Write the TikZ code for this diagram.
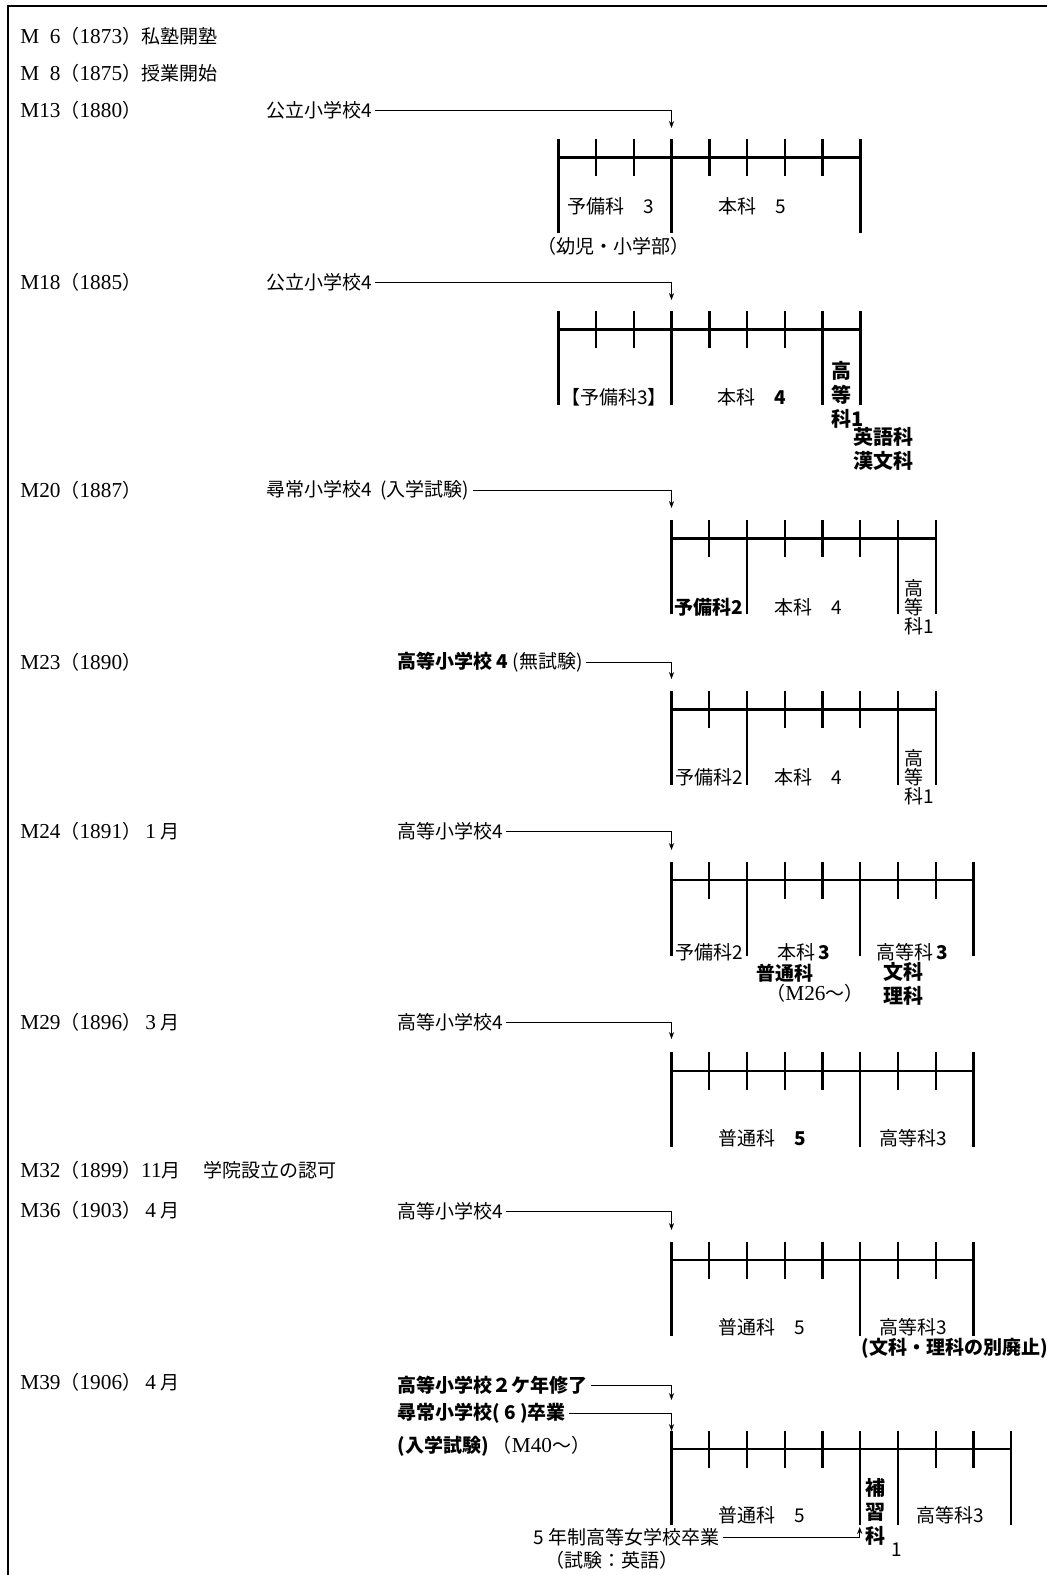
\documentclass[tikz,border=0pt]{standalone}
\usepackage{fontspec}
\setmainfont{Noto Sans CJK JP}
\newfontfamily\lat{Liberation Serif}[Scale=1.12]
\usetikzlibrary{
    arrows.meta,
    positioning
}
\tikzstyle{yearlabel} = [
    anchor=west,
    inner sep=0pt
]
\tikzstyle{entry} = [
    anchor=west,
    inner xsep=1.5pt,
    inner ysep=0pt
]
\tikzstyle{course} = [
    inner sep=0pt
]
\tikzstyle{stack} = [
    anchor=west,
    align=left,
    inner sep=0pt
]
\tikzstyle{feed} = [
    -{Stealth[length=3.5pt,width=2.6pt]},
    line width=0.5pt
]
\tikzstyle{bar} = [
    line width=1.2pt
]
\tikzstyle{frame} = [
    line width=0.9pt
]
% x0, y of the line, number of years, long ticks
\newcommand{\gradebar}[4]{%
    \draw[bar] (#1,#2) -- ++(#3*37.75,0);
    \foreach \k in {0,...,#3}
        \draw[bar] (#1+\k*37.75,#2-18.5) -- ++(0,37.5);
    \foreach \k in {#4}
        \draw[bar] (#1+\k*37.75,#2) -- ++(0,76);
}

\begin{document}
\begin{tikzpicture}[x=0.5pt, y=-0.5pt, font=\fontsize{9.5}{9.5}\selectfont]
        \useasboundingbox (0,0) rectangle (1047,1575);
        \draw[frame] (8,1575) -- (8,6) -- (1047,6);

        % Years
        \node[yearlabel] (m6)  at (20,36)   {{\lat M\enspace6}（{\lat 1873}）私塾開塾};
        \node[yearlabel] (m8)  at (20,73)   {{\lat M\enspace8}（{\lat 1875}）授業開始};
        \node[yearlabel] (m13) at (20,110)  {{\lat M13}（{\lat 1880}）};
        \node[yearlabel] (m18) at (20,282)  {{\lat M18}（{\lat 1885}）};
        \node[yearlabel] (m20) at (20,490)  {{\lat M20}（{\lat 1887}）};
        \node[yearlabel] (m23) at (20,662)  {{\lat M23}（{\lat 1890}）};
        \node[yearlabel] (m24) at (20,831)  {{\lat M24}（{\lat 1891}）\ {\lat 1}\ 月};
        \node[yearlabel] (m29) at (20,1022) {{\lat M29}（{\lat 1896}）\ {\lat 3}\ 月};
        \node[yearlabel] (m32) at (20,1170) {{\lat M32}（{\lat 1899}）{\lat 11}月\quad\ 学院設立の認可};
        \node[yearlabel] (m36) at (20,1210) {{\lat M36}（{\lat 1903}）\ {\lat 4}\ 月};
        \node[yearlabel] (m39) at (20,1382) {{\lat M39}（{\lat 1906}）\ {\lat 4}\ 月};

        % Entry routes
        \node[entry] (kouritsu1) at (263,110) {公立小学校4};
        \node[entry] (kouritsu2) at (263,282) {公立小学校4};
        \node[entry] (jinjo1) at (263,490) {尋常小学校4\ \ (入学試験)};
        \node[entry] (koto1) at (394,662) {{\bfseries 高等小学校 4} (無試験)};
        \node[entry] (koto2) at (394,831) {高等小学校4};
        \node[entry] (koto3) at (394,1022) {高等小学校4};
        \node[entry] (koto4) at (394,1211) {高等小学校4};
        \node[entry] (koto5) at (394,1385) {\bfseries 高等小学校２ケ年修了};
        \node[entry] (jinjo2) at (394,1413) {\bfseries 尋常小学校( 6 )卒業};
        \node[yearlabel] (shiken) at (397,1446) {{\bfseries (入学試験)}\ （{\lat M40}〜）};
        \node[entry] (jogakko) at (530,1537) {5 年制高等女学校卒業};
        \node[course] (eigo) at (612,1560) {（試験：英語）};

        \coordinate (e1) at (671.5,128);
        \coordinate (e2) at (671.5,300);
        \coordinate (e3) at (671.5,508);
        \coordinate (e4) at (671.5,679);
        \coordinate (e5) at (671.5,850);
        \coordinate (e6) at (671.5,1039);
        \coordinate (e7) at (671.5,1230);
        \coordinate (e8) at (671.5,1400);
        \coordinate (e9) at (671.5,1431);
        \coordinate (e10) at (859.75,1527);

        \draw[feed] (kouritsu1) -| (e1);
        \draw[feed] (kouritsu2) -| (e2);
        \draw[feed] (jinjo1) -| (e3);
        \draw[feed] (koto1) -| (e4);
        \draw[feed] (koto2) -| (e5);
        \draw[feed] (koto3) -| (e6);
        \draw[feed] (koto4) -| (e7);
        \draw[feed] (koto5) -| (e8);
        \draw[feed] (jinjo2) -| (e9);
        \draw[feed] (jogakko) -| (e10);

        % Course bars
        \gradebar{558.3}{157.3}{8}{0,3,8}
        \gradebar{558.3}{329.3}{8}{0,3,7,8}
        \gradebar{671.5}{538.3}{7}{0,2,6,7}
        \gradebar{671.5}{709.3}{7}{0,2,6,7}
        \gradebar{671.5}{880}{8}{0,2,5,8}
        \gradebar{671.5}{1070.7}{8}{0,5,8}
        \gradebar{671.5}{1260}{8}{0,5,8}
        \gradebar{671.5}{1449}{9}{0,5,6,9}

        % M13
        \node[course] (yobi1) at (611,206) {予備科\quad 3};
        \node[course] (honka1) at (752,206) {本科\quad 5};
        \node[course] (yoji) at (613,246) {（幼児・小学部）};
        % M18
        \node[course] (yobi2) at (614,397) {【予備科3】};
        \node[course] (honka2) at (752,397) {本科\quad{\bfseries 4}};
        \node[stack, font=\bfseries] (kotoka2) at (831,395) {高\\等\\科1};
        \node[stack, font=\bfseries] (gogaku) at (853,449) {英語科\\漢文科};
        % M20
        \node[course] (yobi3) at (709,607) {\bfseries 予備科2};
        \node[course] (honka3) at (808,607) {本科\quad 4};
        \node[stack] (kotoka3) at (904,607) {高\\等\\科1};
        % M23
        \node[course] (yobi4) at (709,777) {予備科2};
        \node[course] (honka4) at (808,777) {本科\quad 4};
        \node[stack] (kotoka4) at (904,777) {高\\等\\科1};
        % M24
        \node[course] (yobi5) at (709,952) {予備科2};
        \node[course] (honka5) at (804,952) {本科\,{\bfseries 3}};
        \node[course] (futsu5) at (785,973) {\bfseries 普通科};
        \node[course] (m26) at (815,993) {（{\lat M26}〜）};
        \node[course] (kotoka5) at (912,952) {高等科\,{\bfseries 3}};
        \node[course, align=center, font=\bfseries] (bunri) at (903,984) {文科\\理科};
        % M29
        \node[course] (futsu6) at (762,1138) {普通科\quad{\bfseries 5}};
        \node[course] (kotoka6) at (913,1138) {高等科3};
        % M36
        \node[course] (futsu7) at (762,1327) {普通科\quad 5};
        \node[course] (kotoka7) at (913,1327) {高等科3};
        \node[course] (haishi) at (955,1348) {\bfseries (文科・理科の別廃止)};
        % M39
        \node[course] (futsu8) at (762,1515) {普通科\quad 5};
        \node[stack, font=\bfseries] (hoshu) at (865,1512) {補\\習\\科};
        \node[course] (hoshu1) at (897,1550) {1};
        \node[course] (kotoka8) at (950,1515) {高等科3};
    \end{tikzpicture}
\end{document}
